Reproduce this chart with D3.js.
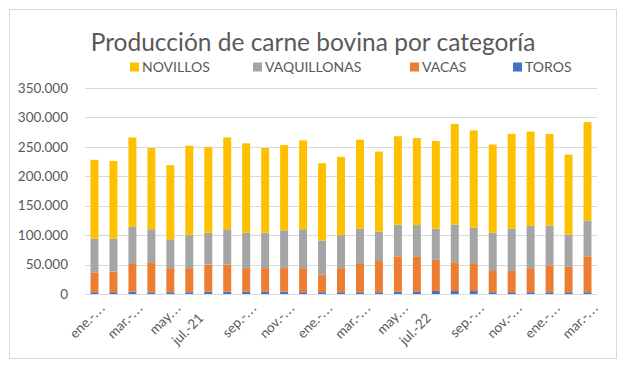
<!DOCTYPE html>
<html>
<head>
<meta charset="utf-8">
<script src="https://cdn.jsdelivr.net/npm/d3@7"></script>
<style>
body { margin: 0; background: #fff; font-family: Lato, "Open Sans", sans-serif; }
</style>
</head>
<body>
<script>
var width = 624, height = 370;

// months ene.-21 .. mar.-23
var months = ["ene.-21","feb.-21","mar.-21","abr.-21","may.-21","jun.-21","jul.-21","ago.-21","sep.-21","oct.-21","nov.-21","dic.-21",
              "ene.-22","feb.-22","mar.-22","abr.-22","may.-22","jun.-22","jul.-22","ago.-22","sep.-22","oct.-22","nov.-22","dic.-22",
              "ene.-23","feb.-23","mar.-23"];
// labels as shown on the axis (every other month, truncated)
var tickLabels = ["ene.-...","mar.-...","may....","jul.-21","sep.-...","nov.-...","ene.-...","mar.-...","may....","jul.-22","sep.-...","nov.-...","ene.-...","mar.-..."];

var toros       = [3000,3000,4000,3000,3000,3000,4000,4000,4000,4000,4000,3000,3000,3000,3000,3000,4000,4000,5000,5000,5000,3000,3000,3000,3000,3000,3000];
var vacas       = [33000,35000,47000,51000,41000,41000,46000,46000,40000,40000,40000,41000,30000,41000,48000,53000,60000,59000,53000,49000,46000,36000,36000,41000,45000,43000,61000];
var vaquillonas = [58000,56000,63000,56000,49000,56000,54000,60000,60000,60000,64000,66000,58000,56000,60000,50000,54000,54000,53000,64000,62000,65000,72000,72000,68000,55000,61000];
var novillos    = [134000,132000,152000,138000,126000,152000,146000,156000,152000,144000,145000,151000,131000,133000,151000,136000,150000,148000,149000,171000,165000,150000,161000,160000,156000,136000,167000];

var seriesNames = ["TOROS","VACAS","VAQUILLONAS","NOVILLOS"];
var colors = {TOROS:"#4472C4", VACAS:"#ED7D31", VAQUILLONAS:"#A5A5A5", NOVILLOS:"#FFC000"};
var legendOrder = ["NOVILLOS","VAQUILLONAS","VACAS","TOROS"];
var yTicks = [0,50000,100000,150000,200000,250000,300000,350000];

var rows = months.map(function(m, i) {
    return {month: m, TOROS: toros[i], VACAS: vacas[i], VAQUILLONAS: vaquillonas[i], NOVILLOS: novillos[i]};
});

var locale = d3.formatLocale({decimal: ",", thousands: ".", grouping: [3], currency: ["", ""]});
var fmt = locale.format(",");

var svg = d3.select("body").append("svg")
    .attr("width", width).attr("height", height);

// chart frame
svg.append("rect")
    .attr("x", 9.5).attr("y", 9.5).attr("width", 607).attr("height", 349)
    .attr("fill", "#fff").attr("stroke", "#d9d9d9");

var x = d3.scaleBand().domain(months).range([85, 597]).paddingInner(0.58).paddingOuter(0.29);
var y = d3.scaleLinear().domain([0, 350000]).range([294, 88]);

// gridlines
svg.append("g").selectAll("line")
    .data(yTicks).enter().append("line")
    .attr("x1", 85).attr("x2", 597)
    .attr("y1", function(d) { return Math.round(y(d)) + 0.5; })
    .attr("y2", function(d) { return Math.round(y(d)) + 0.5; })
    .attr("stroke", "#d9d9d9");

// y labels
svg.append("g").selectAll("text")
    .data(yTicks).enter().append("text")
    .attr("x", 68).attr("y", function(d) { return y(d); })
    .attr("dy", "0.35em")
    .attr("text-anchor", "end")
    .attr("fill", "#595959")
    .style("font-size", "13.5px")
    .text(function(d) { return fmt(d); });

var stack = d3.stack().keys(seriesNames);
var layers = stack(rows);

svg.append("g").selectAll("g")
    .data(layers).enter().append("g")
    .attr("fill", function(d) { return colors[d.key]; })
    .selectAll("rect")
    .data(function(d) { return d; }).enter().append("rect")
    .attr("x", function(d) { return x(d.data.month); })
    .attr("width", x.bandwidth())
    .attr("y", function(d) { return y(d[1]); })
    .attr("height", function(d) { return y(d[0]) - y(d[1]); });

// x labels, rotated; truncated ones sit a bit higher/right like excel does
var labelled = months.filter(function(m, i) { return i % 2 === 0; });
var xl = svg.append("g").selectAll("text")
    .data(labelled).enter().append("text")
    .attr("transform", function(d, i) {
        var cx = x(d) + x.bandwidth() / 2;
        var full = tickLabels[i].indexOf("...") < 0;
        return full ? "translate(" + (cx - 4) + ",319) rotate(-45)"
                    : "translate(" + (cx + 12) + ",308) rotate(-45)";
    })
    .attr("text-anchor", "end")
    .attr("fill", "#595959")
    .style("font-size", "13.5px");
xl.each(function(d, i) {
    var t = d3.select(this), s = tickLabels[i], k = s.indexOf("...");
    if (k < 0) { t.text(s); return; }
    t.append("tspan").text(s.slice(0, k));
    t.append("tspan").style("letter-spacing", "1.5px").text("...");
});

// title
svg.append("text")
    .attr("x", 313).attr("y", 51)
    .attr("text-anchor", "middle")
    .attr("fill", "#595959")
    .style("font-size", "24.5px")
    .text("Producción de carne bovina por categoría");

// legend
var legendX = [130, 253, 410, 513];
var legend = svg.append("g").selectAll("g")
    .data(legendOrder).enter().append("g")
    .attr("transform", function(d, i) { return "translate(" + legendX[i] + ",67)"; });
legend.append("rect")
    .attr("x", 0).attr("y", -4.5).attr("width", 9).attr("height", 9)
    .attr("fill", function(d) { return colors[d]; });
legend.append("text")
    .attr("x", 12).attr("dy", "0.35em")
    .attr("fill", "#595959")
    .style("font-size", "14px")
    .text(function(d) { return d; });
</script>
</body>
</html>
